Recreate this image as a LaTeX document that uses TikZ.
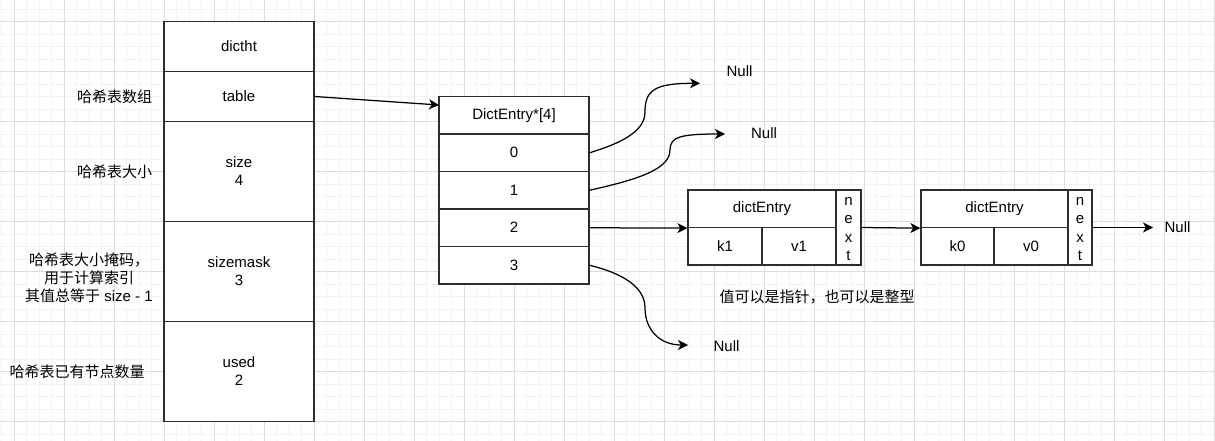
\documentclass[tikz,border=0pt]{standalone}
\usepackage{fontspec}
\setmainfont{Liberation Sans}
\newfontfamily\cjk{Noto Sans CJK SC}
\usetikzlibrary{arrows.meta}
\definecolor{gmaj}{RGB}{220,220,220}
\definecolor{gmin}{RGB}{242,242,242}
\definecolor{edgec}{RGB}{45,45,45}
\begin{document}
\begin{tikzpicture}[x=1pt,y=-1pt,
  every node/.style={font=\fontsize{15pt}{18pt}\selectfont, inner sep=0pt, text=black},
  cellbox/.style={draw=edgec, fill=white, line width=1.3pt, align=center},
  lbl/.style={align=center},
  conn/.style={draw=black, line width=1.25pt, -{Stealth[length=10pt,width=10pt,inset=2.8pt]}}
]
\useasboundingbox (0,0) rectangle (1215,441);
\fill[white] (0,0) rectangle (1215,441);
% grid
\begin{scope}
\clip (0,0) rectangle (1215,441);
\foreach \i in {0,...,97} \draw[gmin, line width=1pt] ({1.8+12.5*\i},0) -- ({1.8+12.5*\i},441);
\foreach \i in {0,...,35} \draw[gmin, line width=1pt] (0,{9.2+12.5*\i}) -- (1215,{9.2+12.5*\i});
\foreach \i in {0,...,24} \draw[gmaj, line width=1pt] ({14.3+50*\i},0) -- ({14.3+50*\i},441);
\foreach \i in {0,...,8} \draw[gmaj, line width=1pt] (0,{21.7+50*\i}) -- (1215,{21.7+50*\i});
\end{scope}

% left stack
\node[cellbox, minimum width=150pt, minimum height=50pt] (dictht) at (239,46.5) {dictht};
\node[cellbox, minimum width=150pt, minimum height=50pt] (table) at (239,96.5) {table};
\node[cellbox, minimum width=150pt, minimum height=100pt] (size) at (239,171.5) {size\\4};
\node[cellbox, minimum width=150pt, minimum height=100pt] (mask) at (239,271.5) {sizemask\\3};
\node[cellbox, minimum width=150pt, minimum height=100pt] (used) at (239,371.5) {used\\2};

% left labels
\node[lbl] (l1) at (114.7,96.5) {\cjk 哈希表数组};
\node[lbl] (l2) at (114.7,171.5) {\cjk 哈希表大小};
\node[lbl] (l3) at (89,278) {{\cjk 哈希表大小掩码，}\\{\cjk 用于计算索引}\\{\cjk 其值总等于} size - 1};
\node[lbl] (l4) at (77,371.5) {\cjk 哈希表已有节点数量};

% middle stack
\node[cellbox, minimum width=150pt, minimum height=37.5pt] (hdr) at (514,115.25) {DictEntry*[4]};
\node[cellbox, minimum width=150pt, minimum height=37.5pt] (r0) at (514,152.75) {0};
\node[cellbox, minimum width=150pt, minimum height=37.5pt] (r1) at (514,190.25) {1};
\node[cellbox, minimum width=150pt, minimum height=37.5pt] (r2) at (514,227.75) {2};
\node[cellbox, minimum width=150pt, minimum height=37.5pt] (r3) at (514,265.25) {3};

% dictEntry 1
\node[cellbox, minimum width=148pt, minimum height=37.5pt] (e1) at (762,208.75) {dictEntry};
\node[cellbox, minimum width=74pt, minimum height=37.5pt] (k1) at (725,246.25) {k1};
\node[cellbox, minimum width=74pt, minimum height=37.5pt] (v1) at (799,246.25) {v1};
\node[cellbox, minimum width=25pt, minimum height=75pt] (n1) at (848.5,227.5) {};
\node[lbl, font=\fontsize{15pt}{18.3pt}\selectfont] (n1t) at (848.5,229) {n\\e\\x\\t};

% dictEntry 2
\node[cellbox, minimum width=147pt, minimum height=37.5pt] (e2) at (994.5,208.75) {dictEntry};
\node[cellbox, minimum width=73pt, minimum height=37.5pt] (k0) at (957.5,246.25) {k0};
\node[cellbox, minimum width=74pt, minimum height=37.5pt] (v0) at (1031,246.25) {v0};
\node[cellbox, minimum width=24pt, minimum height=75pt] (n2) at (1080,227.5) {};
\node[lbl, font=\fontsize{15pt}{18.3pt}\selectfont] (n2t) at (1080,229) {n\\e\\x\\t};

% Null labels
\node (null0) at (739.5,71) {Null};
\node (null1) at (764,133) {Null};
\node (null3) at (726.5,345.7) {Null};
\node (null4) at (1177.5,227.5) {Null};

\node (note) at (817,297) {\cjk 值可以是指针，也可以是整型};

% arrow end points
\coordinate (tin) at (439,105);
\coordinate (t0) at (700,83.3);
\coordinate (t1) at (725,134);
\coordinate (t3) at (688,345);
\coordinate (t4) at (1153,227.5);

% connectors
\draw[conn] (table.east) -- (tin);
\draw[conn] (r0.east) .. controls (625,142) and (645,130) .. (645,112)
  .. controls (645,90) and (655,83.3) .. (t0);
\draw[conn] (r1.east) .. controls (635,180) and (670,170) .. (670,150)
  .. controls (670,137) and (680,134) .. (t1);
\draw[conn] (r3.east) .. controls (625,274) and (645,288) .. (645,308)
  .. controls (645,330) and (660,345) .. (t3);
\draw[conn] (r2.east) -- (e1.south west);
\draw[conn] (n1.east) -- (e2.south west);
\draw[conn] (n2.east) -- (t4);
\end{tikzpicture}
\end{document}
